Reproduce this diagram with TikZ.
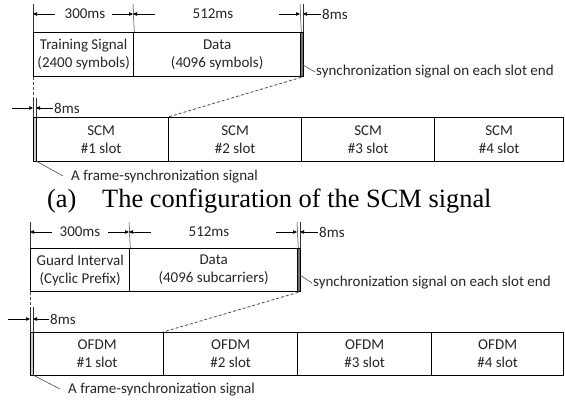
\documentclass[tikz,border=0pt]{standalone}
\usepackage{fontspec}
\setmainfont{Carlito}
\newfontfamily\capfont{Liberation Serif}
\usetikzlibrary{arrows.meta}
\begin{document}
\begin{tikzpicture}[x=1pt,y=-1pt,
  cell/.style={draw, line width=1.3pt, inner sep=0pt, anchor=north west, align=center,
    font=\fontsize{15}{18}\selectfont, text=black!85},
  syncbar/.style={draw, line width=0.8pt, fill=black!55},
  framebar/.style={draw, line width=0.9pt, fill=black!20},
  tick/.style={draw, line width=0.5pt, black!80},
  dimarr/.style={draw, line width=0.6pt, -{Triangle[length=4pt,width=3.5pt]}},
  dimlbl/.style={font=\fontsize{15}{18}\selectfont, text=black!85, inner sep=1pt},
  note/.style={font=\fontsize{15}{18}\selectfont, text=black!85, inner sep=0pt, anchor=west},
  dashln/.style={draw, line width=0.8pt, black!70, dash pattern=on 3pt off 2pt},
  lead/.style={draw, line width=0.6pt, black!70},
  captxt/.style={font=\capfont\fontsize{26.4}{30}\selectfont, inner sep=0pt, anchor=base west}]
\useasboundingbox (0,0) rectangle (565,400);

% ================= (a) =================
\node[cell, minimum width=100pt, minimum height=44pt] (ts) at (33,32) {Training Signal\\(2400 symbols)};
\node[cell, minimum width=167pt, minimum height=44pt] (da) at (133,32) {Data\\(4096 symbols)};
\path[syncbar] (300,32) rectangle (303,76);
\coordinate (sa) at (303,65);
\coordinate (ta0) at (33,4); \coordinate (ta1) at (133,4); \coordinate (ta2) at (300,4); \coordinate (ta3) at (303,4);
\path[tick] (ta0) -- (ts.north west);
\path[tick] (ta1) -- (ts.north east);
\path[tick] (ta2) -- (da.north east);
\path[tick] (ta3) -- (303,32);
\node[dimlbl] (l300a) at (85,14) {300ms};
\node[dimlbl] (l512a) at (213,14) {512ms};
\node[dimlbl, anchor=west] (l8a) at (321,14) {8ms};
\coordinate (d0) at (33,14); \coordinate (d1) at (133,14); \coordinate (d2) at (300,14); \coordinate (d3) at (303,14);
\path[dimarr] (55,14) -- (d0);
\path[dimarr] (112,14) -- (d1);
\path[dimarr] (155,14) -- (d1);
\path[dimarr] (279,14) -- (d2);
\path[dimarr] (l8a.west) -- (d3);
\node[cell, minimum width=135pt, minimum height=44pt] (s1) at (33,117) {SCM\\\#1 slot};
\node[cell, minimum width=133pt, minimum height=44pt] (s2) at (168,117) {SCM\\\#2 slot};
\node[cell, minimum width=133pt, minimum height=44pt] (s3) at (301,117) {SCM\\\#3 slot};
\node[cell, minimum width=129pt, minimum height=44pt] (s4) at (434,117) {SCM\\\#4 slot};
\path[framebar] (33,117) rectangle (36,161);
\coordinate (za) at (33,98);
\path[dashln] (ts.south west) -- (za);
\path[dashln] (da.south east) -- (s2.north west);
\path[tick] (za) -- (33,117);
\path[tick] (36,98) -- (36,117);
\coordinate (e0) at (12,108); \coordinate (e1) at (33,108); \coordinate (e2) at (36,108);
\node[dimlbl, anchor=west] (l8b) at (53,108) {8ms};
\path[dimarr] (e0) -- (e1);
\path[dimarr] (l8b.west) -- (e2);
\node[note] (na) at (316,72) {synchronization signal on each slot end};
\path[lead] (sa) -- ([xshift=-1pt]na.west);
\node[note] (fa) at (71,177) {A frame-synchronization signal};
\path[lead] (36,161) -- ([xshift=-8pt,yshift=1pt]fa.west);
\node[captxt] (capa) at (47,207) {(a)};
\node[captxt] (capt) at (102,207) {The configuration of the SCM signal};

% ================= (b) =================
\node[cell, minimum width=99pt, minimum height=43pt] (gi) at (30,248) {Guard Interval\\(Cyclic Prefix)};
\node[cell, minimum width=168pt, minimum height=43pt] (db) at (129,248) {Data\\(4096 subcarriers)};
\path[syncbar] (297,248) rectangle (300,291);
\coordinate (sb) at (300,275);
\coordinate (tb0) at (30,222); \coordinate (tb1) at (129,222); \coordinate (tb2) at (297,222); \coordinate (tb3) at (300,222);
\path[tick] (tb0) -- (gi.north west);
\path[tick] (tb1) -- (gi.north east);
\path[tick] (tb2) -- (db.north east);
\path[tick] (tb3) -- (300,248);
\node[dimlbl] (l300b) at (80,232) {300ms};
\node[dimlbl] (l512b) at (209,232) {512ms};
\node[dimlbl, anchor=west] (l8c) at (318,232) {8ms};
\coordinate (f0) at (30,232); \coordinate (f1) at (129,232); \coordinate (f2) at (297,232); \coordinate (f3) at (300,232);
\path[dimarr] (52,232) -- (f0);
\path[dimarr] (108,232) -- (f1);
\path[dimarr] (151,232) -- (f1);
\path[dimarr] (276,232) -- (f2);
\path[dimarr] (l8c.west) -- (f3);
\node[cell, minimum width=133pt, minimum height=43pt] (o1) at (30,332) {OFDM\\\#1 slot};
\node[cell, minimum width=134pt, minimum height=43pt] (o2) at (163,332) {OFDM\\\#2 slot};
\node[cell, minimum width=134pt, minimum height=43pt] (o3) at (297,332) {OFDM\\\#3 slot};
\node[cell, minimum width=132pt, minimum height=43pt] (o4) at (431,332) {OFDM\\\#4 slot};
\path[framebar] (30,332) rectangle (33,375);
\coordinate (zb) at (30,307);
\path[dashln] (gi.south west) -- (zb);
\path[dashln] (db.south east) -- (o2.north west);
\path[tick] (zb) -- (30,332);
\path[tick] (33,307) -- (33,332);
\coordinate (g0) at (8,319); \coordinate (g1) at (30,319); \coordinate (g2) at (33,319);
\node[dimlbl, anchor=west] (l8d) at (49,319) {8ms};
\path[dimarr] (g0) -- (g1);
\path[dimarr] (l8d.west) -- (g2);
\node[note] (nb) at (313,283) {synchronization signal on each slot end};
\path[lead] (sb) -- ([xshift=-1pt]nb.west);
\node[note] (fb) at (68,390) {A frame-synchronization signal};
\path[lead] (33,375) -- ([xshift=-8pt,yshift=1pt]fb.west);
\end{tikzpicture}
\end{document}
